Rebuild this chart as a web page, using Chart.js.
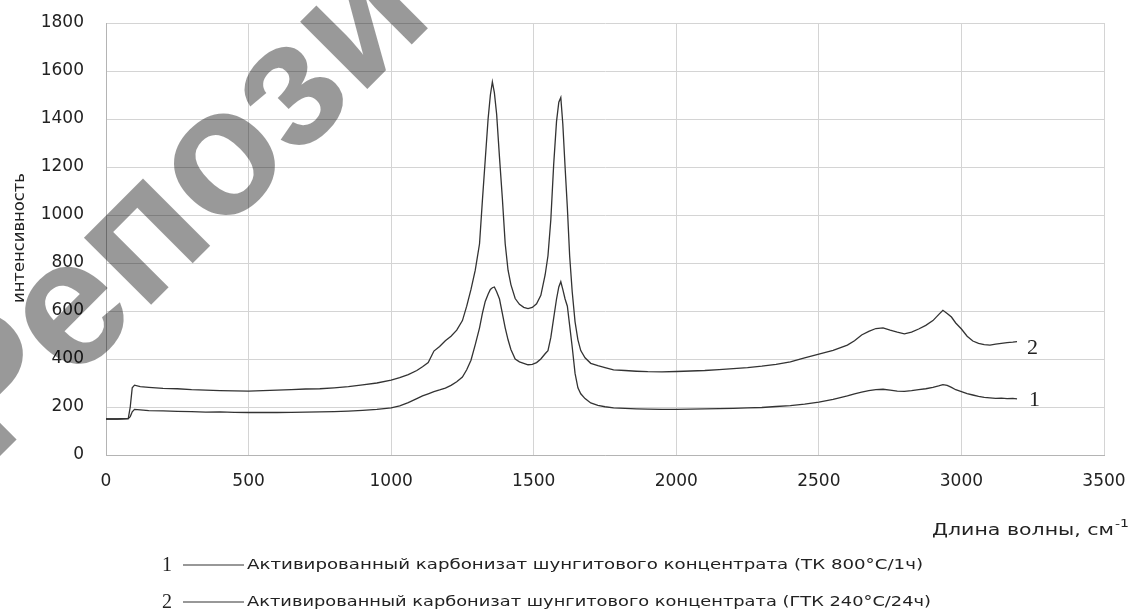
<!DOCTYPE html>
<html>
<head>
<meta charset="utf-8">
<script src="https://cdn.jsdelivr.net/npm/chart.js@4.4.1/dist/chart.umd.min.js"></script>
<style>
  html, body { margin: 0; padding: 0; background: #fff; }
  #wrap { width: 1134px; height: 613px; }
</style>
</head>
<body>
<div id="wrap"><canvas id="spectrum"></canvas></div>
<script>
// ================= DATA =================

const wavenumbers = [
  0, 40, 78, 85, 92, 100, 120, 150, 200, 250, 300, 350, 400, 450, 500, 550,
  600, 650, 700, 750, 800, 850, 900, 950, 1000, 1030, 1060, 1090, 1110, 1130,
  1150, 1170, 1190, 1210, 1230, 1250, 1265, 1280, 1295, 1310, 1320, 1330, 1340,
  1348, 1355, 1362, 1370, 1380, 1390, 1400, 1410, 1420, 1435, 1450, 1465, 1480,
  1495, 1510, 1525, 1540, 1550, 1560, 1570, 1580, 1588, 1595, 1602, 1610, 1618,
  1626, 1635, 1645, 1655, 1665, 1680, 1700, 1725, 1750, 1780, 1820, 1860, 1900,
  1950, 2000, 2050, 2100, 2150, 2200, 2250, 2300, 2350, 2400, 2450, 2500, 2550,
  2600, 2625, 2650, 2675, 2700, 2725, 2750, 2775, 2800, 2825, 2850, 2875, 2900,
  2920, 2935, 2950, 2965, 2980, 3000, 3020, 3040, 3060, 3080, 3100, 3120, 3140,
  3160, 3180, 3195
];

// 1 - ТК 800°С/1ч (lower curve)
const intensity1 = [
  150, 150, 152, 160, 180, 190, 188, 185, 184, 182, 181, 179, 180, 178, 177, 178,
  177, 178, 179, 180, 181, 183, 186, 190, 196, 205, 218, 235, 246, 255,
  264, 271, 279, 290, 305, 325, 355, 395, 460, 530, 590, 640, 670,
  690, 697, 700, 680, 650, 590, 530, 480, 440, 400, 388, 382, 376,
  378, 385, 400, 422, 435, 490, 570, 650, 700, 722, 690, 650, 620,
  540, 450, 340, 280, 255, 235, 217, 207, 201, 196, 194, 192, 191,
  190, 190, 191, 192, 193, 194, 196, 198, 202, 206, 212, 220, 232,
  246, 255, 262, 268, 272, 274, 270, 266, 265, 268, 272, 276, 282,
  288, 293, 290, 282, 272, 264, 256, 250, 244, 240, 238, 236, 237,
  235, 236, 234
];

// 2 - ГТК 240°С/24ч (upper curve)
const intensity2 = [
  150, 150, 152, 200, 280, 291, 285, 282, 278, 276, 272, 270, 268, 267, 266, 268,
  270, 272, 275, 276, 280, 285, 292, 300, 312, 322, 335, 352, 368, 385,
  433, 452, 476, 495, 520, 560, 620, 690, 770, 880, 1060, 1230, 1400,
  1500, 1555, 1510, 1420, 1240, 1070, 880, 770, 710, 652, 628, 615, 610,
  615, 630, 665, 750, 830, 980, 1210, 1390, 1470, 1490, 1380, 1200, 1030,
  830, 680, 555, 480, 435, 405, 382, 372, 364, 355, 352, 349, 347,
  346, 348, 350, 352, 356, 360, 364, 370, 378, 388, 405, 420, 436,
  458, 476, 500, 515, 527, 530, 520, 512, 505, 512, 525, 540, 560,
  585, 603, 590, 575, 550, 525, 495, 475, 465, 460, 458, 462, 465,
  468, 470, 472
];

const seriesNames = [
  "Активированный карбонизат шунгитового концентрата (ТК 800°С/1ч)",
  "Активированный карбонизат шунгитового концентрата (ГТК 240°С/24ч)"
];
const seriesNumbers = ["1", "2"];

const xTitle = "Длина волны, см";
const xTitleSup = "-1";
const yTitle = "интенсивность";
const watermark = "Репозиторий";

// ================= OVERLAY TEXT =================

// draws text stretched sideways to a given width (the scan is stretched)
function wideText(ctx, text, x, y, width) {
  const w = ctx.measureText(text).width;
  ctx.save();
  ctx.translate(x, y);
  ctx.scale(width / w, 1);
  ctx.fillText(text, 0, 0);
  ctx.restore();
}

const overlay = {
  id: "overlay",
  afterDraw(chart) {
    const ctx = chart.ctx;
    const xs = chart.scales.x;
    const ys = chart.scales.y;
    ctx.save();
    ctx.fillStyle = "#222";

    // y axis title
    ctx.save();
    ctx.translate(20, 238);
    ctx.rotate(-Math.PI / 2);
    ctx.font = "15px 'DejaVu Sans'";
    ctx.textAlign = "left";
    ctx.textBaseline = "middle";
    wideText(ctx, yTitle, -65, 0, 130);
    ctx.restore();

    // x axis title
    ctx.font = "15px 'DejaVu Sans'";
    ctx.textAlign = "left";
    ctx.textBaseline = "middle";
    wideText(ctx, xTitle, 932, 531, 182);
    ctx.font = "11px 'DejaVu Sans'";
    wideText(ctx, xTitleSup, 1115, 524, 14);

    // curve numbers at series ends
    const lastX = wavenumbers[wavenumbers.length - 1];
    ctx.font = "22px 'Liberation Serif'";
    ctx.textAlign = "left";
    ctx.textBaseline = "middle";
    ctx.fillText(seriesNumbers[1], xs.getPixelForValue(lastX) + 10,
      ys.getPixelForValue(intensity2[intensity2.length - 1]) + 6);
    ctx.fillText(seriesNumbers[0], xs.getPixelForValue(lastX) + 12,
      ys.getPixelForValue(intensity1[intensity1.length - 1]) + 1);

    // legend
    const legendWidths = [676, 684];
    [565, 602].forEach((y, i) => {
      ctx.font = "20px 'Liberation Serif'";
      ctx.textAlign = "left";
      ctx.fillText(seriesNumbers[i], 162, y + 1);
      ctx.strokeStyle = "#333";
      ctx.lineWidth = 1.2;
      ctx.beginPath();
      ctx.moveTo(183, y);
      ctx.lineTo(244, y);
      ctx.stroke();
      ctx.font = "14px 'DejaVu Sans'";
      wideText(ctx, seriesNames[i], 247, y, legendWidths[i]);
    });

    // watermark
    ctx.font = "bold 180px 'Liberation Sans'";
    ctx.fillStyle = "rgba(0,0,0,0.4)";
    ctx.textAlign = "left";
    ctx.textBaseline = "alphabetic";
    ctx.translate(225, 165);
    ctx.rotate(-Math.PI / 4);
    const pre = ctx.measureText("Реп").width;
    const oW = ctx.measureText("о").width;
    ctx.fillText(watermark, -pre - oW / 2, 0.26 * 180);
    ctx.restore();
  }
};

// ================= CHART =================

const lineColor = "#333";

new Chart(document.getElementById("spectrum"), {
  type: "line",
  data: {
    datasets: [
      {
        label: seriesNames[0],
        data: wavenumbers.map((x, i) => ({ x, y: intensity1[i] })),
        borderColor: lineColor,
        borderWidth: 1.3,
        pointRadius: 0,
        tension: 0
      },
      {
        label: seriesNames[1],
        data: wavenumbers.map((x, i) => ({ x, y: intensity2[i] })),
        borderColor: lineColor,
        borderWidth: 1.3,
        pointRadius: 0,
        tension: 0
      }
    ]
  },
  options: {
    responsive: true,
    maintainAspectRatio: false,
    animation: false,
    layout: { padding: { top: 23, right: 30, left: 0, bottom: 0 } },
    plugins: { legend: { display: false }, tooltip: { enabled: false } },
    scales: {
      x: {
        type: "linear",
        min: 0,
        max: 3500,
        afterFit(scale) {
          scale.height = 158;
          scale.paddingLeft = 0;
          scale.paddingRight = 0;
        },
        ticks: {
          stepSize: 500,
          padding: 16,
          color: "#222",
          font: { family: "DejaVu Sans", size: 17 },
          maxRotation: 0,
          callback: v => String(v)
        },
        grid: { color: "#d4d4d4", drawTicks: false },
        border: { color: "#b4b4b4" }
      },
      y: {
        min: 0,
        max: 1800,
        afterFit(scale) {
          scale.width = 106;
          scale.paddingTop = 0;
          scale.paddingBottom = 0;
        },
        ticks: {
          stepSize: 200,
          padding: 22,
          color: "#222",
          font: { family: "DejaVu Sans", size: 17 },
          callback: v => String(v)
        },
        grid: { color: "#d4d4d4", drawTicks: false },
        border: { color: "#b4b4b4" }
      }
    }
  },
  plugins: [overlay]
});
</script>
</body>
</html>
